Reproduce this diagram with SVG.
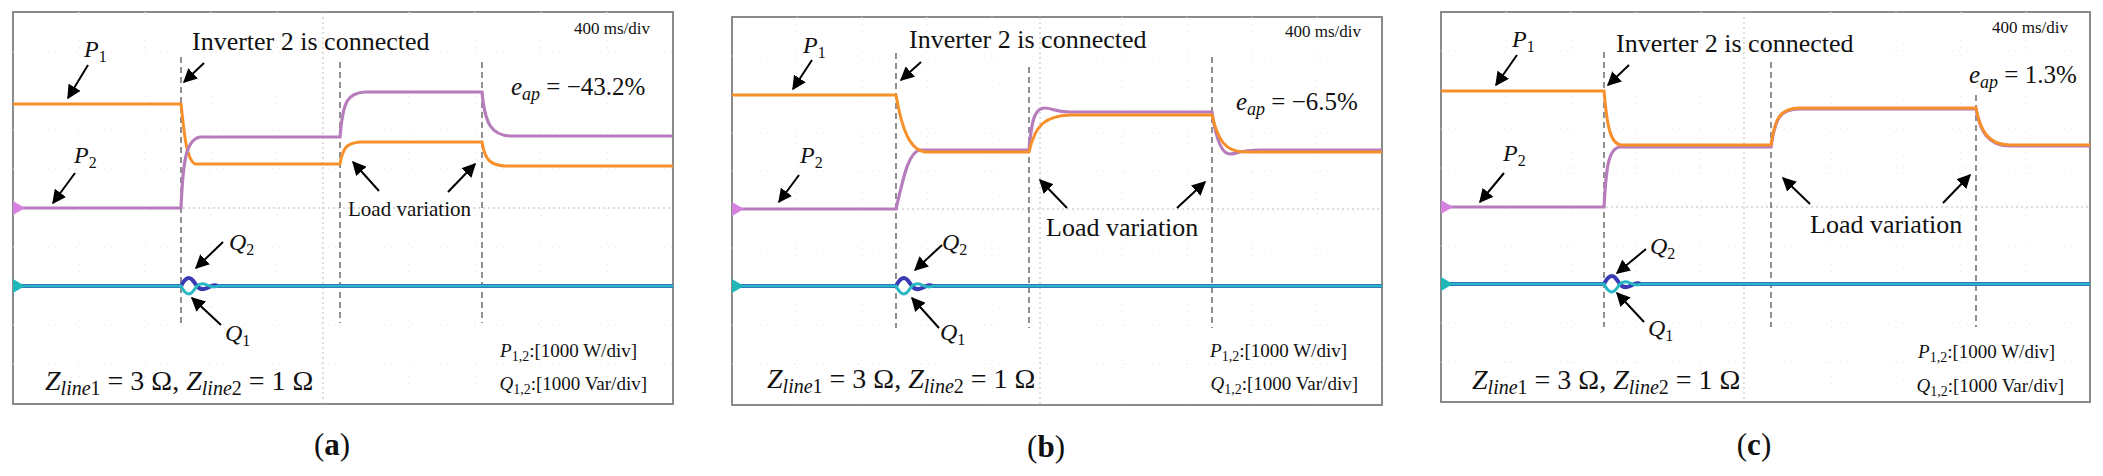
<svg xmlns="http://www.w3.org/2000/svg" width="2103" height="476" viewBox="0 0 2103 476" font-family="'Liberation Serif','DejaVu Serif',serif">
<style>
text{font-family:"Liberation Serif","DejaVu Serif",serif;fill:#111}
.fr{fill:#fff;stroke:#8a8a8a;stroke-width:2}
.dash{stroke:#555;stroke-width:1.3;stroke-dasharray:6,4;fill:none}
.cross{stroke:#bbb;stroke-width:1;stroke-dasharray:2,3;fill:none}
.grid{stroke:#e4e4e4;stroke-width:1;stroke-dasharray:1,6;fill:none}
.or{stroke:#f7902a;stroke-width:3;fill:none}
.pu{stroke:#b67cbc;stroke-width:3.2;fill:none}
.qb{stroke:#3a3ab4;stroke-width:4;fill:none}
.qc{stroke:#28b8c4;stroke-width:3;fill:none}
.arr{stroke:#000;stroke-width:2;fill:none;marker-end:url(#ah)}
.lab{font-size:24px}
.inv{font-size:26px}
.sm{font-size:17px}
.mid{font-size:19px}
.lv{font-size:21px}
.ld{font-size:25px}
.big{font-size:28px}
.cap{font-size:31px;font-weight:bold}
</style>
<defs>
<marker id="ah" viewBox="0 0 10 10" refX="9" refY="5" markerWidth="14" markerHeight="14" markerUnits="userSpaceOnUse" orient="auto"><path d="M0,0 L10,5 L0,10 z" fill="#000"/></marker>
</defs>

<g id="panel-a">
<rect class="fr" x="13" y="12" width="660" height="392"/>
<path class="grid" d="M13,52H673M13,130H673M13,169H673M13,247H673M13,325H673M13,364H673M79,12V404M145,12V404M211,12V404M277,12V404M409,12V404M475,12V404M541,12V404M607,12V404"/>
<path class="cross" d="M13,208H673M323,12V404"/>
<path class="dash" d="M181,57V323M340,62V323M482,62V323"/>
<path class="or" d="M13,104H181C184,130 186,160 195,164H340C343,146 348,143 360,142H482C485,160 490,165 505,166H673"/>
<path class="pu" d="M13,208H181C183,160 186,140 200,137H340C343,100 348,93 365,92H482C485,125 492,135 510,136H673"/>
<path class="qb" d="M13,286H181C184,280 186,278 189,278C192,278 194,282 197,286C200,290 203,290 207,288C211,286 214,284 218,286H673"/>
<path class="qc" d="M13,286H181C184,292 186,294 189,294C192,294 194,290 197,286C200,283 203,283 207,285C211,287 214,288 218,286H673"/>
<path d="M13,201L25,208L13,215z" fill="#d680e0"/>
<path d="M13,279L25,286L13,293z" fill="#1fb8b8"/>
<text class="sm" x="574" y="34">400 ms/div</text>
<text class="inv" x="192" y="50">Inverter 2 is connected</text>
<text class="ld" x="511" y="95"><tspan font-style="italic">e</tspan><tspan font-style="italic" font-size="18" dy="5">ap</tspan><tspan dy="-5"> = −43.2%</tspan></text>
<text class="lab" x="84" y="57"><tspan font-style="italic">P</tspan><tspan font-size="16" dy="5">1</tspan></text>
<text class="lab" x="74" y="163"><tspan font-style="italic">P</tspan><tspan font-size="16" dy="5">2</tspan></text>
<text class="lv" x="348" y="216">Load variation</text>
<text class="lab" x="229" y="250"><tspan font-style="italic">Q</tspan><tspan font-size="16" dy="5">2</tspan></text>
<text class="lab" x="225" y="341"><tspan font-style="italic">Q</tspan><tspan font-size="16" dy="5">1</tspan></text>
<text class="big" x="45" y="390"><tspan font-style="italic">Z</tspan><tspan font-style="italic" font-size="20" dy="5">line</tspan><tspan font-size="20">1</tspan><tspan dy="-5"> = 3 Ω, </tspan><tspan font-style="italic">Z</tspan><tspan font-style="italic" font-size="20" dy="5">line</tspan><tspan font-size="20">2</tspan><tspan dy="-5"> = 1 Ω</tspan></text>
<text class="mid" x="637" y="357" text-anchor="end"><tspan font-style="italic">P</tspan><tspan font-size="14" dy="4">1,2</tspan><tspan dy="-4">:[1000 W/div]</tspan></text>
<text class="mid" x="647" y="390" text-anchor="end"><tspan font-style="italic">Q</tspan><tspan font-size="14" dy="4">1,2</tspan><tspan dy="-4">:[1000 Var/div]</tspan></text>
<text class="cap" x="332" y="455" text-anchor="middle"><tspan font-weight="normal">(</tspan>a<tspan font-weight="normal">)</tspan></text>
</g>

<g id="panel-b">
<rect class="fr" x="732" y="17" width="650" height="388"/>
<path class="grid" d="M732,56H1382M732,133H1382M732,171H1382M732,248H1382M732,325H1382M732,364H1382M797,17V405M862,17V405M927,17V405M992,17V405M1122,17V405M1187,17V405M1252,17V405M1317,17V405"/>
<path class="cross" d="M732,209H1382M1040,17V405"/>
<path class="dash" d="M896,53V328M1029,67V328M1212,57V328"/>
<path class="pu" d="M732,209H896C903,180 908,152 920,150H1029C1032,115 1036,108 1045,108C1052,108 1055,112 1070,112H1212C1216,140 1222,154 1230,154C1236,154 1240,150 1260,150H1382"/>
<path class="or" d="M732,95H896C902,130 910,150 925,152H1029C1035,125 1045,116 1070,115H1212C1218,140 1225,152 1245,152H1382"/>
<path class="qb" d="M732,286H896C899,280 901,278 904,278C907,278 909,282 912,286C915,290 918,290 922,288C926,286 929,284 933,286H1382"/>
<path class="qc" d="M732,286H896C899,292 901,294 904,294C907,294 909,290 912,286C915,283 918,283 922,285C926,287 929,288 933,286H1382"/>
<path d="M732,202L744,209L732,216z" fill="#d680e0"/>
<path d="M732,279L744,286L732,293z" fill="#1fb8b8"/>
<text class="sm" x="1285" y="37">400 ms/div</text>
<text class="inv" x="909" y="48">Inverter 2 is connected</text>
<text class="ld" x="1236" y="110"><tspan font-style="italic">e</tspan><tspan font-style="italic" font-size="18" dy="5">ap</tspan><tspan dy="-5"> = −6.5%</tspan></text>
<text class="lab" x="803" y="53"><tspan font-style="italic">P</tspan><tspan font-size="16" dy="5">1</tspan></text>
<text class="lab" x="800" y="163"><tspan font-style="italic">P</tspan><tspan font-size="16" dy="5">2</tspan></text>
<text class="inv" x="1046" y="236">Load variation</text>
<text class="lab" x="942" y="250"><tspan font-style="italic">Q</tspan><tspan font-size="16" dy="5">2</tspan></text>
<text class="lab" x="940" y="340"><tspan font-style="italic">Q</tspan><tspan font-size="16" dy="5">1</tspan></text>
<text class="big" x="767" y="388"><tspan font-style="italic">Z</tspan><tspan font-style="italic" font-size="20" dy="5">line</tspan><tspan font-size="20">1</tspan><tspan dy="-5"> = 3 Ω, </tspan><tspan font-style="italic">Z</tspan><tspan font-style="italic" font-size="20" dy="5">line</tspan><tspan font-size="20">2</tspan><tspan dy="-5"> = 1 Ω</tspan></text>
<text class="mid" x="1347" y="357" text-anchor="end"><tspan font-style="italic">P</tspan><tspan font-size="14" dy="4">1,2</tspan><tspan dy="-4">:[1000 W/div]</tspan></text>
<text class="mid" x="1358" y="390" text-anchor="end"><tspan font-style="italic">Q</tspan><tspan font-size="14" dy="4">1,2</tspan><tspan dy="-4">:[1000 Var/div]</tspan></text>
<text class="cap" x="1046" y="457" text-anchor="middle"><tspan font-weight="normal">(</tspan>b<tspan font-weight="normal">)</tspan></text>
</g>

<g id="panel-c">
<rect class="fr" x="1441" y="12" width="649" height="390"/>
<path class="grid" d="M1441,51H2090M1441,129H2090M1441,168H2090M1441,246H2090M1441,323H2090M1441,362H2090M1506,12V402M1571,12V402M1636,12V402M1701,12V402M1831,12V402M1896,12V402M1961,12V402M2026,12V402"/>
<path class="cross" d="M1441,207H2090M1744,12V402"/>
<path class="dash" d="M1604,52V327M1771,62V327M1976,95V327"/>
<path class="pu" d="M1441,207H1604C1606,170 1608,148 1620,147H1771C1775,118 1780,109 1800,109H1976C1980,131 1988,146 2010,146H2090"/>
<path class="or" d="M1441,91H1604C1607,125 1610,145 1622,145H1771C1775,118 1780,108 1800,108H1976C1980,130 1988,145 2010,145H2090"/>
<path class="qb" d="M1441,284H1604C1607,278 1609,276 1612,276C1615,276 1617,280 1620,284C1623,288 1626,288 1630,286C1634,284 1637,282 1641,284H2090"/>
<path class="qc" d="M1441,284H1604C1607,290 1609,292 1612,292C1615,292 1617,288 1620,284C1623,281 1626,281 1630,283C1634,285 1637,286 1641,284H2090"/>
<path d="M1441,200L1453,207L1441,214z" fill="#d680e0"/>
<path d="M1441,277L1453,284L1441,291z" fill="#1fb8b8"/>
<text class="sm" x="1992" y="33">400 ms/div</text>
<text class="inv" x="1616" y="52">Inverter 2 is connected</text>
<text class="ld" x="1969" y="83"><tspan font-style="italic">e</tspan><tspan font-style="italic" font-size="18" dy="5">ap</tspan><tspan dy="-5"> = 1.3%</tspan></text>
<text class="lab" x="1512" y="47"><tspan font-style="italic">P</tspan><tspan font-size="16" dy="5">1</tspan></text>
<text class="lab" x="1503" y="161"><tspan font-style="italic">P</tspan><tspan font-size="16" dy="5">2</tspan></text>
<text class="inv" x="1810" y="233">Load variation</text>
<text class="lab" x="1650" y="254"><tspan font-style="italic">Q</tspan><tspan font-size="16" dy="5">2</tspan></text>
<text class="lab" x="1648" y="336"><tspan font-style="italic">Q</tspan><tspan font-size="16" dy="5">1</tspan></text>
<text class="big" x="1472" y="389"><tspan font-style="italic">Z</tspan><tspan font-style="italic" font-size="20" dy="5">line</tspan><tspan font-size="20">1</tspan><tspan dy="-5"> = 3 Ω, </tspan><tspan font-style="italic">Z</tspan><tspan font-style="italic" font-size="20" dy="5">line</tspan><tspan font-size="20">2</tspan><tspan dy="-5"> = 1 Ω</tspan></text>
<text class="mid" x="2055" y="358" text-anchor="end"><tspan font-style="italic">P</tspan><tspan font-size="14" dy="4">1,2</tspan><tspan dy="-4">:[1000 W/div]</tspan></text>
<text class="mid" x="2064" y="392" text-anchor="end"><tspan font-style="italic">Q</tspan><tspan font-size="14" dy="4">1,2</tspan><tspan dy="-4">:[1000 Var/div]</tspan></text>
<text class="cap" x="1754" y="455" text-anchor="middle"><tspan font-weight="normal">(</tspan>c<tspan font-weight="normal">)</tspan></text>
</g>

<g id="connectors">
<path class="arr" d="M88,65L68,98"/>
<path class="arr" d="M75,173L53,203"/>
<path class="arr" d="M204,63L184,82"/>
<path class="arr" d="M379,191L353,162"/>
<path class="arr" d="M448,192L475,164"/>
<path class="arr" d="M223,242L196,268"/>
<path class="arr" d="M221,325L192,298"/>
<path class="arr" d="M812,60L793,89"/>
<path class="arr" d="M799,175L779,202"/>
<path class="arr" d="M921,62L901,80"/>
<path class="arr" d="M1067,208L1040,180"/>
<path class="arr" d="M1177,208L1205,182"/>
<path class="arr" d="M942,245L915,270"/>
<path class="arr" d="M939,328L912,298"/>
<path class="arr" d="M1517,55L1496,85"/>
<path class="arr" d="M1504,173L1480,202"/>
<path class="arr" d="M1629,65L1608,85"/>
<path class="arr" d="M1810,204L1783,178"/>
<path class="arr" d="M1943,203L1970,175"/>
<path class="arr" d="M1646,249L1617,273"/>
<path class="arr" d="M1644,322L1617,293"/>
</g>
</svg>
